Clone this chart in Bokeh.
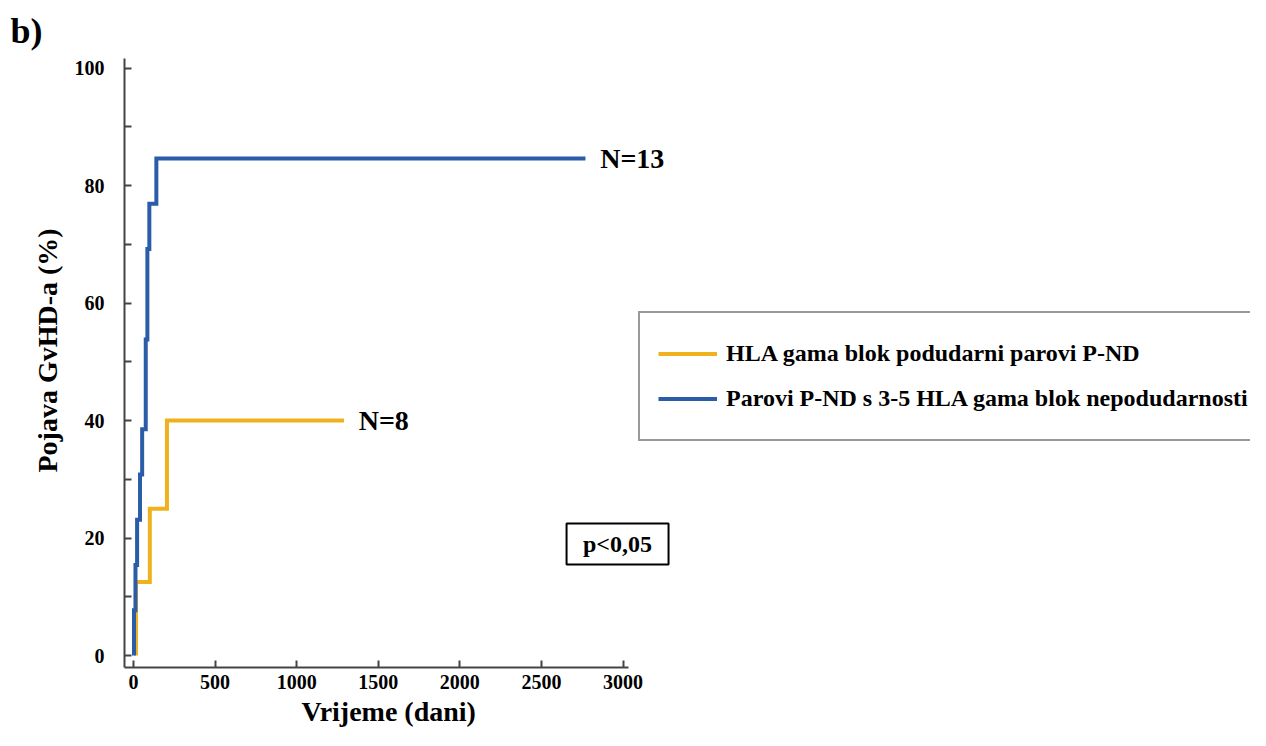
from bokeh.plotting import figure
from bokeh.models import (Range1d, FixedTicker, Label, Legend, LegendItem, BoxAnnotation, Title)
from bokeh.embed import file_html
from bokeh.resources import INLINE

# ---- data ----
blue_days = [3, 12, 22, 40, 53, 75, 85, 97, 140]
blue_pct = [7.7, 15.4, 23.1, 30.8, 38.5, 53.8, 69.2, 76.9, 84.6]
blue_end = 2770
blue_n = "N=13"
blue_name = "Parovi P-ND s 3-5 HLA gama blok nepodudarnosti"

orange_days = [15, 100, 205]
orange_pct = [12.5, 25.0, 40.0]
orange_end = 1290
orange_n = "N=8"
orange_name = "HLA gama blok podudarni parovi P-ND"

x_ticks = [0, 500, 1000, 1500, 2000, 2500, 3000]
y_ticks = [0, 20, 40, 60, 80, 100]
y_minor = [10, 30, 50, 70, 90]
x_label = "Vrijeme (dani)"
y_label = "Pojava GvHD-a (%)"
p_text = "p<0,05"
panel_letter = "b)"

BLUE = "#2a5ca8"
ORANGE = "#efb11d"
FONT = "Liberation Serif"
AX = "#444444"

def steps(days, pct, end):
    xs = [days[0]] + list(days) + [end]
    ys = [0] + list(pct) + [pct[-1]]
    return xs, ys

p = figure(width=1250, height=730, output_backend="svg", toolbar_location=None,
           x_range=Range1d(-55.2, 6845.6), y_range=Range1d(-2.04, 102.13),
           min_border_left=124, min_border_right=0, min_border_top=55, min_border_bottom=63)
p.outline_line_color = None
p.xgrid.grid_line_color = None
p.ygrid.grid_line_color = None
p.background_fill_color = "white"
p.border_fill_color = "white"

p.title.text = panel_letter
p.title.align = "left"
p.title.offset = -114
p.title.standoff = 10
p.title.text_font = FONT
p.title.text_font_style = "bold"
p.title.text_font_size = "36px"
p.title.text_color = "black"

bx, by = steps(blue_days, blue_pct, blue_end)
ox, oy = steps(orange_days, orange_pct, orange_end)
r_o = p.step(ox, oy, mode="after", line_color=ORANGE, line_width=4, line_join="miter")
r_b = p.step(bx, by, mode="after", line_color=BLUE, line_width=4, line_join="miter")

# axes
for ax in (p.xaxis[0], p.yaxis[0]):
    ax.axis_line_color = AX
    ax.axis_line_width = 2
    ax.major_tick_line_color = AX
    ax.major_tick_line_width = 2
    ax.major_tick_in = 7
    ax.major_tick_out = 0
    ax.minor_tick_line_color = AX
    ax.minor_tick_line_width = 2
    ax.minor_tick_in = 7
    ax.minor_tick_out = 0
    ax.major_label_text_font = FONT
    ax.major_label_text_font_style = "bold"
    ax.major_label_text_font_size = "20px"
    ax.major_label_text_color = "black"

p.xaxis[0].ticker = FixedTicker(ticks=x_ticks)
p.xaxis[0].minor_tick_line_color = None
p.xaxis[0].bounds = (-55.2, 3033)
p.xaxis[0].major_label_standoff = 7

p.yaxis[0].ticker = FixedTicker(ticks=y_ticks, minor_ticks=y_minor)
p.yaxis[0].bounds = (-2.04, 101.6)
p.yaxis[0].major_label_standoff = 20

# axis titles, placed under / beside the drawn axis extent (not the whole frame)
p.add_layout(Title(text=x_label, align="left", offset=177, standoff=4,
                   text_font=FONT, text_font_style="bold", text_font_size="28px",
                   text_color="black"), "below")
p.add_layout(Title(text=y_label, align="left", offset=195, standoff=17,
                   text_font=FONT, text_font_style="bold", text_font_size="28px",
                   text_color="black"), "left")

# N labels
p.add_layout(Label(x=blue_end + 90, y=blue_pct[-1], text=blue_n, text_font=FONT,
                   text_font_style="bold", text_font_size="28px", text_baseline="middle",
                   text_color="black"))
p.add_layout(Label(x=orange_end + 90, y=orange_pct[-1], text=orange_n, text_font=FONT,
                   text_font_style="bold", text_font_size="28px", text_baseline="middle",
                   text_color="black"))

# p-value box
p.add_layout(BoxAnnotation(left=2654, right=3279, top=22.47, bottom=15.49,
                           fill_color=None, line_color="black", line_alpha=1.0, line_width=2))
p.add_layout(Label(x=2966, y=18.98, text=p_text, text_font=FONT, text_font_style="bold",
                   text_font_size="24px", text_align="center", text_baseline="middle",
                   text_color="black"))

legend = Legend(items=[LegendItem(label=orange_name, renderers=[r_o]),
                       LegendItem(label=blue_name, renderers=[r_b])],
                location=(514, 226), margin=0, padding=18, spacing=0,
                label_height=45, glyph_height=45, glyph_width=59, label_standoff=9,
                label_text_font=FONT, label_text_font_style="bold",
                label_text_font_size="24px", label_text_color="black",
                border_line_color="#333333", border_line_width=2,
                background_fill_color="white", background_fill_alpha=1.0)
p.add_layout(legend)

open("out.html", "w").write(file_html(p, INLINE))
